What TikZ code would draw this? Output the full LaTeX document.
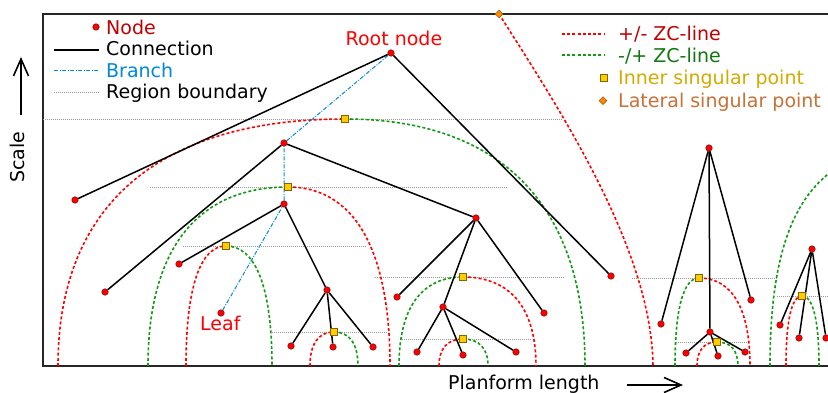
\documentclass[tikz,border=0pt]{standalone}
\usepackage{fontspec}
\setmainfont{DejaVu Sans}
\usetikzlibrary{calc,shapes.geometric,arrows.meta,backgrounds}
\definecolor{nodered}{HTML}{FF0000}
\definecolor{nodeedge}{HTML}{800000}
\definecolor{legred}{HTML}{C00000}
\definecolor{zcred}{HTML}{FF0000}
\definecolor{zcgreen}{HTML}{119911}
\definecolor{leggreen}{HTML}{117711}
\definecolor{branchblue}{HTML}{0088DD}
\definecolor{singyellow}{HTML}{FFCC00}
\definecolor{singedge}{HTML}{806600}
\definecolor{leggold}{HTML}{D4AA00}
\definecolor{latorange}{HTML}{FF8800}
\definecolor{latedge}{HTML}{995500}
\definecolor{legorange}{HTML}{C87137}
\definecolor{regiongray}{HTML}{999999}
\newcommand{\zcup}[4]{\draw[#1] (#2,366) .. controls ($(#2,366)!0.65!(#2,#4)$) and ($(#3,#4)!0.65!(#2,#4)$) .. (#3,#4);}
\newcommand{\zcdown}[4]{\draw[#1] (#2,#3) .. controls ($(#2,#3)!0.65!(#4,#3)$) and ($(#4,366)!0.65!(#4,#3)$) .. (#4,366);}
\begin{document}
\begin{tikzpicture}[x=1pt,y=-1pt,
  treenode/.style={circle, fill=nodered, draw=nodeedge, line width=0.5pt, inner sep=0pt, minimum size=6.5pt},
  conn/.style={black, line width=1.5pt},
  branchline/.style={branchblue, line width=1pt, dash pattern=on 4pt off 1.5pt on 1pt off 1.5pt},
  regionline/.style={regiongray, line width=0.9pt, dash pattern=on 1pt off 1pt},
  zcr/.style={zcred, line width=1.6pt, dash pattern=on 3pt off 2.2pt},
  zcg/.style={zcgreen, line width=1.6pt, dash pattern=on 3pt off 2.2pt},
  innersp/.style={rectangle, fill=singyellow, draw=singedge, line width=0.6pt, inner sep=0pt, minimum size=6.5pt},
  latsp/.style={diamond, fill=latorange, draw=latedge, line width=0.5pt, inner sep=0pt, minimum size=8pt},
  lab/.style={font=\fontsize{19pt}{22pt}\selectfont, inner sep=0pt},
  frameline/.style={black!85, line width=1.6pt},
  axisarrow/.style={black, line width=1.6pt, -{Straight Barb[length=17pt,width=15pt,line width=1.6pt]}}
]
\useasboundingbox (0,0) rectangle (828,393);

% tree nodes
\node[treenode] (root) at (391,53) {};
\node[treenode] (l1) at (75,200) {};
\node[treenode] (l2) at (611,276) {};
\node[treenode] (na) at (284,143) {};
\node[treenode] (l3) at (105,292) {};
\node[treenode] (nb) at (284,204) {};
\node[treenode] (nc) at (476,218) {};
\node[treenode] (l4) at (179,264) {};
\node[treenode] (leaf) at (221,313) {};
\node[treenode] (nd) at (327,290) {};
\node[treenode] (d1) at (291,346) {};
\node[treenode] (d2) at (333,347) {};
\node[treenode] (d3) at (373,347) {};
\node[treenode] (c1) at (397,297) {};
\node[treenode] (ne) at (443,307) {};
\node[treenode] (c3) at (544,313) {};
\node[treenode] (e1) at (417,352) {};
\node[treenode] (e2) at (463,355) {};
\node[treenode] (e3) at (516,352) {};
\node[treenode] (nf) at (709,148) {};
\node[treenode] (f1) at (661,324) {};
\node[treenode] (f3) at (751,300) {};
\node[treenode] (ng) at (710,332) {};
\node[treenode] (g1) at (686,353) {};
\node[treenode] (g2) at (718,356) {};
\node[treenode] (g3) at (745,352) {};
\node[treenode] (nh) at (812,249) {};
\node[treenode] (h1) at (780,325) {};
\node[treenode] (h2) at (799,338) {};
\node[treenode] (h3) at (826,338) {};

% singular points
\node[innersp] (s1) at (345,119) {};
\node[innersp] (s2) at (288,187) {};
\node[innersp] (s3) at (226,246) {};
\node[innersp] (s4) at (334,332) {};
\node[innersp] (s5) at (463,277) {};
\node[innersp] (s6) at (463,339) {};
\node[innersp] (s7) at (699,278) {};
\node[innersp] (s8) at (717,342) {};
\node[innersp] (s9) at (802,296) {};
\node[latsp] (lat) at (499,14) {};

% labels
\node[lab, anchor=base west, text=nodered] (rootlab) at (345.5,46) {Root node};
\node[lab, anchor=base west, text=nodered] (leaflab) at (200,330) {Leaf};
\node[lab, rotate=90] (scalelab) at (17.5,157) {Scale};
\node[lab, anchor=base west] (planlab) at (448,389) {Planform length};
\coordinate (sa1) at (21,115); \coordinate (sa2) at (21,57);
\coordinate (pa1) at (627,385); \coordinate (pa2) at (683,385);
\draw[axisarrow] (sa1) -- (sa2);
\draw[axisarrow] (pa1) -- (pa2);

% legend left
\node[treenode] (lgnode) at (96,27) {};
\node[lab, anchor=base west, text=legred] (lgnodet) at (106,35) {Node};
\coordinate (lc1) at (54,50); \coordinate (lc2) at (99,50);
\draw[conn] (lc1) -- (lc2);
\node[lab, anchor=base west] (lgconnt) at (106,56) {Connection};
\coordinate (lb1) at (54,71); \coordinate (lb2) at (99,71);
\draw[branchline] (lb1) -- (lb2);
\node[lab, anchor=base west, text=branchblue] (lgbrt) at (106,77.3) {Branch};
\coordinate (lr1) at (54,92.7); \coordinate (lr2) at (99,92.7);
\draw[regionline] (lr1) -- (lr2);
\node[lab, anchor=base west] (lgregt) at (106,98.3) {Region boundary};

% legend right
\coordinate (zr1) at (562,34.3); \coordinate (zr2) at (605,34.3);
\draw[zcr] (zr1) -- (zr2);
\node[lab, anchor=base west, text=legred] (lgzcr) at (618,41) {+/- ZC-line};
\coordinate (zg1) at (562,55); \coordinate (zg2) at (605,55);
\draw[zcg] (zg1) -- (zg2);
\node[lab, anchor=base west, text=leggreen] (lgzcg) at (618,62.7) {-/+ ZC-line};
\node[innersp] (lgisp) at (604,77.7) {};
\node[lab, anchor=base west, text=leggold] (lgispt) at (618,84.3) {Inner singular point};
\node[latsp] (lglsp) at (603,100.7) {};
\node[lab, anchor=base west, text=legorange] (lglspt) at (618,107.3) {Lateral singular point};

\begin{scope}[on background layer]
  % frame
  \draw[frameline] (828,14) -- (43,14) -- (43,366) -- (828,366);
  % region boundaries
  \draw[regionline] (43,119) -- (563,119);
  \draw[regionline] (150,187) -- (508,187);
  \draw[regionline] (183,246) -- (367,246);
  \draw[regionline] (375,277) -- (565,277);
  \draw[regionline] (272,332) -- (387,332);
  \draw[regionline] (402,339) -- (532,339);
  \draw[regionline] (632,278) -- (777,278);
  \draw[regionline] (676,342) -- (748,342);
  \draw[regionline] (777,296) -- (828,296);
  % ZC lines
  \zcup{zcr}{58}{345}{119} \zcdown{zcg}{345}{119}{585}
  \zcup{zcg}{148}{288}{187} \zcdown{zcr}{288}{187}{390}
  \zcup{zcr}{186}{226}{246} \zcdown{zcg}{226}{246}{272}
  \zcup{zcr}{310}{334}{332} \zcdown{zcg}{334}{332}{358}
  \zcup{zcg}{399}{463}{277} \zcdown{zcr}{463}{277}{536}
  \zcup{zcr}{439}{463}{339} \zcdown{zcg}{463}{339}{488}
  \zcup{zcg}{675}{699}{278} \zcdown{zcr}{699}{278}{750}
  \zcup{zcr}{697}{717}{342} \zcdown{zcg}{717}{342}{738}
  \zcup{zcr}{786}{802}{296} \zcdown{zcg}{802}{296}{819}
  \draw[zcr] (lat.center) .. controls (560,110) and (652,250) .. (653,366);
  \begin{scope}
    \clip (0,0) rectangle (828,393);
    \draw[zcg] (770,366) .. controls (770,240) and (800,185) .. (850,160);
  \end{scope}
  % branch
  \draw[branchline] (leaf) -- (nb) -- (na) -- (root);
  % connections
  \draw[conn] (root) -- (l1);
  \draw[conn] (root) -- (l2);
  \draw[conn] (na) -- (l3);
  \draw[conn] (na) -- (nc);
  \draw[conn] (nb) -- (l4);
  \draw[conn] (nb) -- (nd);
  \draw[conn] (nd) -- (d1);
  \draw[conn] (nd) -- (d2);
  \draw[conn] (nd) -- (d3);
  \draw[conn] (nc) -- (c1);
  \draw[conn] (nc) -- (ne);
  \draw[conn] (nc) -- (c3);
  \draw[conn] (ne) -- (e1);
  \draw[conn] (ne) -- (e2);
  \draw[conn] (ne) -- (e3);
  \draw[conn] (nf) -- (f1);
  \draw[conn] (nf) -- (ng);
  \draw[conn] (nf) -- (f3);
  \draw[conn] (ng) -- (g1);
  \draw[conn] (ng) -- (g2);
  \draw[conn] (ng) -- (g3);
  \draw[conn] (nh) -- (h1);
  \draw[conn] (nh) -- (h2);
  \draw[conn] (nh) -- (h3);
\end{scope}
\end{tikzpicture}
\end{document}
